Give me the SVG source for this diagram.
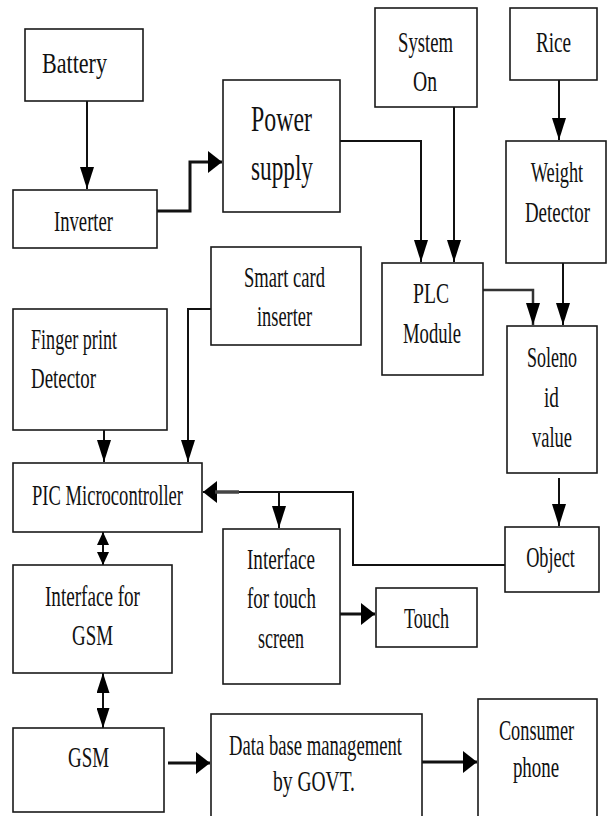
<svg xmlns="http://www.w3.org/2000/svg" width="608" height="816" viewBox="0 0 608 816">
<style>
.box{fill:#fff;stroke:#1a1a1a;stroke-width:1.6}
.t{font-family:"Liberation Serif","Times New Roman",serif;font-size:30px;fill:#111;text-anchor:middle}
.l{text-anchor:start}
.big{font-size:35px}
.c{fill:none;stroke:#111;stroke-width:2}
.thick{stroke-width:3}
</style>
<defs>
<marker id="av" markerUnits="userSpaceOnUse" markerWidth="22" markerHeight="14" viewBox="0 0 22 14" refX="22" refY="7" orient="auto"><path d="M0,0 L22,7 L0,14 z" fill="#000"/></marker>
<marker id="ah" markerUnits="userSpaceOnUse" markerWidth="14" markerHeight="22" viewBox="0 0 14 22" refX="14" refY="11" orient="auto"><path d="M0,0 L14,11 L0,22 z" fill="#000"/></marker>
<marker id="as" markerUnits="userSpaceOnUse" markerWidth="13" markerHeight="12" viewBox="0 0 13 12" refX="13" refY="6" orient="auto-start-reverse"><path d="M0,0 L13,6 L0,12 z" fill="#000"/></marker>
<marker id="ad" markerUnits="userSpaceOnUse" markerWidth="20" markerHeight="13" viewBox="0 0 20 13" refX="20" refY="6.5" orient="auto-start-reverse"><path d="M0,0 L20,6.5 L0,13 z" fill="#000"/></marker>
</defs>
<rect width="608" height="816" fill="#fff"/>
<g id="connectors">
<path class="c" d="M87,101 V189" marker-end="url(#av)"/>
<path class="c thick" d="M157,211 H190 V162 H222" marker-end="url(#ah)"/>
<path class="c" d="M340,141 H421 V262" marker-end="url(#av)"/>
<path class="c" d="M454,107 V262" marker-end="url(#av)"/>
<path class="c" d="M559,80 V140" marker-end="url(#av)"/>
<path class="c" d="M483,290 H533 V325" marker-end="url(#av)" style="stroke:#333;stroke-width:2.5"/>
<path class="c" d="M563,263 V325" marker-end="url(#av)"/>
<path class="c" d="M559,478 V526" marker-end="url(#av)"/>
<path class="c" d="M211,309 H188 V462" marker-end="url(#av)"/>
<path class="c" d="M104,430 V462" marker-end="url(#av)"/>
<path class="c" d="M505,565 H353 V492 H203" marker-end="url(#ah)"/>
<path d="M215,492 H239" style="stroke:#444;stroke-width:3.5"/>
<path class="c" d="M279,492 V528" marker-end="url(#av)"/>
<path class="c" d="M103,532 V565" marker-start="url(#as)" marker-end="url(#as)"/>
<path class="c" d="M103,673 V728" marker-start="url(#ad)" marker-end="url(#ad)"/>
<path class="c thick" d="M340,614 H375" marker-end="url(#ah)"/>
<path class="c thick" d="M168,763 H210" marker-end="url(#ah)"/>
<path class="c thick" d="M422,762 H477" marker-end="url(#ah)"/>
</g>
<g id="battery"><rect class="box" x="25" y="29" width="118" height="72"/><text class="t" x="74.5" y="73" textLength="65" lengthAdjust="spacingAndGlyphs">Battery</text></g>
<g id="inverter"><rect class="box" x="13" y="190" width="144" height="58"/><text class="t" x="83.5" y="231" textLength="59" lengthAdjust="spacingAndGlyphs">Inverter</text></g>
<g id="power-supply"><rect class="box" x="223" y="80" width="117" height="132"/><text class="t big" x="281.5" y="131" textLength="61" lengthAdjust="spacingAndGlyphs">Power</text><text class="t big" x="282" y="180" textLength="62" lengthAdjust="spacingAndGlyphs">supply</text></g>
<g id="system-on"><rect class="box" x="375" y="8" width="102" height="99"/><text class="t" x="425.5" y="52" textLength="55" lengthAdjust="spacingAndGlyphs">System</text><text class="t" x="425" y="91" textLength="24" lengthAdjust="spacingAndGlyphs">On</text></g>
<g id="rice"><rect class="box" x="510" y="8" width="87" height="72"/><text class="t" transform="translate(553.5,52) scale(0.64,1)">Rice</text></g>
<g id="weight-detector"><rect class="box" x="506" y="141" width="100" height="122"/><text class="t" transform="translate(557,182) scale(0.61,1)">Weight</text><text class="t" transform="translate(557.5,222) scale(0.63,1)">Detector</text></g>
<g id="plc-module"><rect class="box" x="382" y="263" width="101" height="112"/><text class="t" x="431" y="303" textLength="36" lengthAdjust="spacingAndGlyphs">PLC</text><text class="t" x="432" y="343" textLength="58" lengthAdjust="spacingAndGlyphs">Module</text></g>
<g id="solenoid-value"><rect class="box" x="507" y="326" width="90" height="147"/><text class="t" transform="translate(552,367) scale(0.6,1)">Soleno</text><text class="t" transform="translate(551.5,407) scale(0.64,1)">id</text><text class="t" transform="translate(552,447) scale(0.615,1)">value</text></g>
<g id="object"><rect class="box" x="505" y="527" width="94" height="65"/><text class="t" transform="translate(550.5,567) scale(0.61,1)">Object</text></g>
<g id="smart-card"><rect class="box" x="211" y="247" width="150" height="98"/><text class="t" x="284.5" y="287" textLength="81" lengthAdjust="spacingAndGlyphs">Smart card</text><text class="t" x="284.5" y="326" textLength="55" lengthAdjust="spacingAndGlyphs">inserter</text></g>
<g id="finger-print"><rect class="box" x="13" y="309" width="154" height="121"/><text class="t l" x="31" y="349" textLength="86" lengthAdjust="spacingAndGlyphs">Finger print</text><text class="t l" x="31" y="388" textLength="65" lengthAdjust="spacingAndGlyphs">Detector</text></g>
<g id="pic"><rect class="box" x="13" y="463" width="189" height="69"/><text class="t l" x="32" y="505" textLength="151" lengthAdjust="spacingAndGlyphs">PIC Microcontroller</text></g>
<g id="interface-gsm"><rect class="box" x="13" y="565" width="159" height="108"/><text class="t" x="92.5" y="606" textLength="95" lengthAdjust="spacingAndGlyphs">Interface for</text><text class="t" x="92.5" y="645" textLength="41" lengthAdjust="spacingAndGlyphs">GSM</text></g>
<g id="interface-touch"><rect class="box" x="223" y="529" width="117" height="155"/><text class="t" x="281" y="569" textLength="68" lengthAdjust="spacingAndGlyphs">Interface</text><text class="t" x="281.5" y="608" textLength="69" lengthAdjust="spacingAndGlyphs">for touch</text><text class="t" x="281" y="648" textLength="46" lengthAdjust="spacingAndGlyphs">screen</text></g>
<g id="touch"><rect class="box" x="376" y="588" width="101" height="59"/><text class="t" x="426.5" y="628" textLength="45" lengthAdjust="spacingAndGlyphs">Touch</text></g>
<g id="gsm"><rect class="box" x="13" y="728" width="151" height="84"/><text class="t" x="88.5" y="767" textLength="41" lengthAdjust="spacingAndGlyphs">GSM</text></g>
<g id="database"><rect class="box" x="211" y="714" width="211" height="110"/><text class="t" x="315.5" y="755" textLength="173" lengthAdjust="spacingAndGlyphs">Data base management</text><text class="t" x="314" y="791" textLength="82" lengthAdjust="spacingAndGlyphs">by GOVT.</text></g>
<g id="consumer-phone"><rect class="box" x="478" y="699" width="119" height="125"/><text class="t" transform="translate(536.5,740) scale(0.61,1)">Consumer</text><text class="t" transform="translate(536,777) scale(0.63,1)">phone</text></g>
</svg>
